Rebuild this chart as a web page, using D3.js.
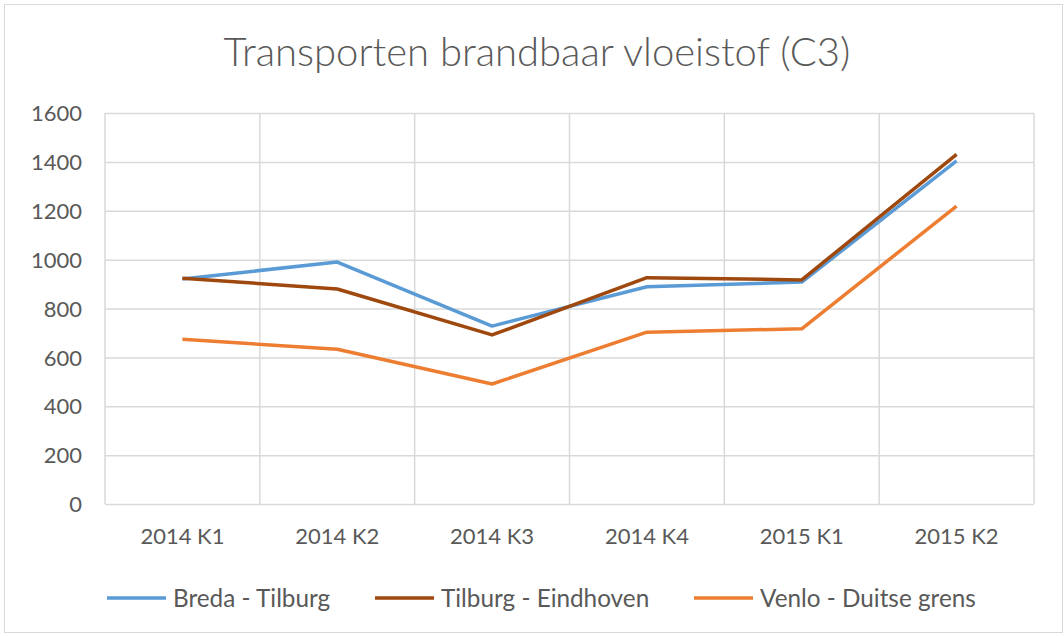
<!DOCTYPE html>
<html>
<head>
<meta charset="utf-8">
<script src="https://cdn.jsdelivr.net/npm/d3@7"></script>
<style>
  body { margin: 0; background: #fff; }
  svg text { font-family: Lato, "Open Sans", sans-serif; fill: #595959; }
</style>
</head>
<body>
<div id="chart"></div>
<script>
var categories = ["2014 K1", "2014 K2", "2014 K3", "2014 K4", "2015 K1", "2015 K2"];
var seriesNames = ["Breda - Tilburg", "Tilburg - Eindhoven", "Venlo - Duitse grens"];
var bredaTilburg = [921, 990, 728, 889, 908, 1404];
var tilburgEindhoven = [924, 880, 692, 926, 917, 1431];
var venloGrens = [674, 633, 491, 703, 717, 1219];
var yTicks = [0, 200, 400, 600, 800, 1000, 1200, 1400, 1600];
var colors = ["#5B9BD5", "#9E480E", "#ED7D31"];

var width = 1064, height = 636;
var margin = {top: 113, right: 30, bottom: 132, left: 105};

var svg = d3.select('#chart').append('svg')
  .attr('width', width)
  .attr('height', height);

// outer chart border
svg.append('rect')
  .attr('x', 4.5).attr('y', 4.5)
  .attr('width', width - 6).attr('height', height - 8)
  .attr('fill', '#fff')
  .attr('stroke', '#d9d9d9');

var x = d3.scaleBand()
  .domain(categories)
  .range([margin.left, width - margin.right]);

var y = d3.scaleLinear()
  .domain([0, 1600])
  .range([height - margin.bottom, margin.top]);

// horizontal grid
svg.append('g')
  .attr('transform', 'translate(' + margin.left + ',0)')
  .call(d3.axisLeft(y).tickValues(yTicks).tickSize(-(width - margin.left - margin.right)).tickFormat(''))
  .call(function (g) { g.select('.domain').remove(); })
  .selectAll('line').attr('stroke', '#d9d9d9').attr('stroke-width', 1.5);

// vertical grid at category boundaries
var bounds = categories.map(function (c) { return x(c); }).concat([x.range()[1]]);
svg.append('g').selectAll('line')
  .data(bounds)
  .enter().append('line')
    .attr('x1', function (d) { return d; })
    .attr('x2', function (d) { return d; })
    .attr('y1', y(0))
    .attr('y2', y(1600))
    .attr('stroke', '#d9d9d9')
    .attr('stroke-width', 1.5);

// y labels
var yAxis = svg.append('g')
  .attr('transform', 'translate(' + (margin.left - 23) + ',0)')
  .call(d3.axisLeft(y).tickValues(yTicks).tickSize(0).tickPadding(0).tickFormat(d3.format('d')));
yAxis.select('.domain').remove();
yAxis.selectAll('text')
  .style('font-size', '22px')
  .attr('dy', '0.35em')
  .attr('fill', '#595959');

// x labels
var xAxis = svg.append('g')
  .attr('transform', 'translate(0,' + (height - margin.bottom) + ')')
  .call(d3.axisBottom(x).tickSize(0).tickPadding(24));
xAxis.select('.domain').remove();
xAxis.selectAll('text')
  .style('font-size', '22px')
  .attr('fill', '#595959');

// lines
var allSeries = [bredaTilburg, tilburgEindhoven, venloGrens];
var line = d3.line()
  .x(function (d, i) { return x(categories[i]) + x.bandwidth() / 2; })
  .y(function (d) { return y(d); });

svg.append('g').selectAll('path')
  .data(allSeries)
  .enter().append('path')
    .attr('d', line)
    .attr('fill', 'none')
    .attr('stroke', function (d, i) { return colors[i]; })
    .attr('stroke-width', 3.5)
    .attr('stroke-linejoin', 'round');

// title
svg.append('text')
  .attr('x', 537)
  .attr('y', 66)
  .attr('text-anchor', 'middle')
  .style('font-size', '40px')
  .style('font-weight', 300)
  .text('Transporten brandbaar vloeistof (C3)');

// legend
var legendX = [107, 375, 694];
var legend = svg.append('g').selectAll('g')
  .data(seriesNames)
  .enter().append('g')
    .attr('transform', function (d, i) { return 'translate(' + legendX[i] + ',598)'; });
legend.append('line')
  .attr('x1', 0).attr('x2', 59)
  .attr('stroke', function (d, i) { return colors[i]; })
  .attr('stroke-width', 3.5);
legend.append('text')
  .attr('x', 66)
  .attr('dy', '0.35em')
  .style('font-size', '24.3px')
  .text(function (d) { return d; });
</script>
</body>
</html>
